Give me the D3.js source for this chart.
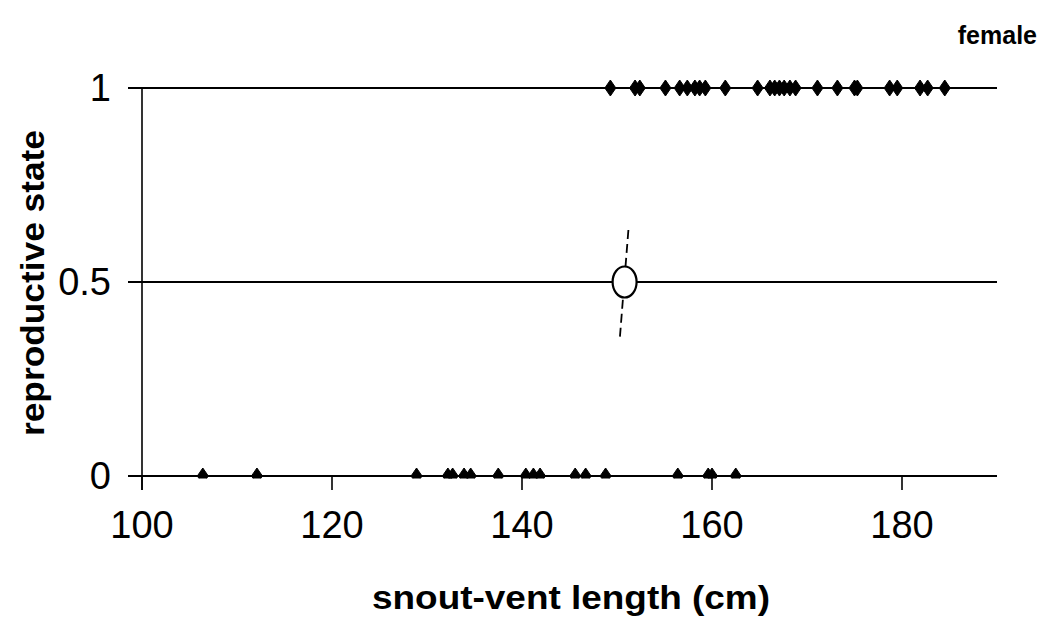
<!DOCTYPE html>
<html>
<head>
<meta charset="utf-8">
<script src="https://cdn.jsdelivr.net/npm/d3@7"></script>
<style>
  html, body { margin: 0; padding: 0; background: #fff; }
  svg { display: block; font-family: "Liberation Sans", Arial, sans-serif; }
</style>
</head>
<body>
<svg id="chart" width="1048" height="631"></svg>
<script>
// Snout-vent lengths (cm) of reproductive (state 1) females
const matureSVL = [149.3, 151.9, 152.4, 155.1, 156.6, 157.4, 158.2, 158.7, 159.3, 161.4,
  164.8, 166.1, 166.6, 167.1, 167.6, 168.2, 168.8, 171.1, 173.2, 175.0, 175.3,
  178.7, 179.5, 181.9, 182.7, 184.5];
// Snout-vent lengths (cm) of non-reproductive (state 0) females
const immatureSVL = [106.4, 112.1, 128.9, 132.2, 132.7, 133.9, 134.6, 137.5, 140.4, 141.2,
  141.9, 145.6, 146.7, 148.8, 156.4, 159.6, 160.0, 162.5];
// Size at 50% maturity and the slope segment drawn through it
const size50 = [150.8];
const slopeSegment = [{ svl: 151.2, p: 0.634 }, { svl: 150.3, p: 0.356 }];
const xTicks = [100, 120, 140, 160, 180];
const yTicks = [0, 0.5, 1];
const yTickLabels = ["0", "0.5", "1"];

const svg = d3.select("#chart");
const x = d3.scaleLinear().domain([100, 190]).range([142, 997]);
const y = d3.scaleLinear().domain([0, 1]).range([476, 88]);

// horizontal reference lines at each state
svg.append("g").selectAll("line").data(yTicks).join("line")
  .attr("x1", 128).attr("x2", x(190))
  .attr("y1", d => y(d)).attr("y2", d => y(d))
  .attr("stroke", "#000").attr("stroke-width", 2);

// y axis line
svg.append("line").attr("x1", x(100)).attr("x2", x(100))
  .attr("y1", y(1)).attr("y2", y(0) + 14)
  .attr("stroke", "#000").attr("stroke-width", 1.6);

// x axis ticks
svg.append("g").selectAll("line").data(xTicks).join("line")
  .attr("x1", d => x(d)).attr("x2", d => x(d))
  .attr("y1", y(0)).attr("y2", y(0) + 14)
  .attr("stroke", "#000").attr("stroke-width", 1.6);

// tick labels
svg.append("g").selectAll("text").data(xTicks).join("text")
  .attr("x", d => x(d)).attr("y", 538)
  .attr("text-anchor", "middle").attr("font-size", 38)
  .text(d => d);
svg.append("g").selectAll("text").data(yTicks).join("text")
  .attr("x", 111).attr("y", d => y(d) + 13)
  .attr("text-anchor", "end").attr("font-size", 38)
  .text((d, i) => yTickLabels[i]);

// markers: diamonds; the ones sitting on state 0 are cut at the baseline
const diamond = "M0,-8 L5.5,0 L0,8 L-5.5,0 Z";
svg.append("defs").append("clipPath").attr("id", "base")
  .append("rect").attr("x", 0).attr("y", 0).attr("width", 1048).attr("height", y(0) + 2.5);

svg.append("g").selectAll("path").data(matureSVL).join("path")
  .attr("d", diamond)
  .attr("transform", d => `translate(${x(d)},${y(1)})`)
  .attr("fill", "#000").attr("stroke", "#000").attr("stroke-width", 1);

svg.append("g").attr("clip-path", "url(#base)")
  .selectAll("path").data(immatureSVL).join("path")
  .attr("d", diamond)
  .attr("transform", d => `translate(${x(d)},${y(0)})`)
  .attr("fill", "#000").attr("stroke", "#000").attr("stroke-width", 1);

// slope segment through the 50% point
svg.append("line")
  .attr("x1", x(slopeSegment[0].svl)).attr("y1", y(slopeSegment[0].p))
  .attr("x2", x(slopeSegment[1].svl)).attr("y2", y(slopeSegment[1].p))
  .attr("stroke", "#000").attr("stroke-width", 1.8)
  .attr("stroke-dasharray", "9,5");

// open marker at size at 50% maturity
svg.append("g").selectAll("ellipse").data(size50).join("ellipse")
  .attr("cx", d => x(d)).attr("cy", y(0.5))
  .attr("rx", 12).attr("ry", 15.5)
  .attr("fill", "#fff").attr("stroke", "#000").attr("stroke-width", 2.2);

// axis titles
svg.append("text").attr("x", 571).attr("y", 609)
  .attr("text-anchor", "middle").attr("font-size", 34).attr("font-weight", "bold")
  .attr("textLength", 398).attr("lengthAdjust", "spacingAndGlyphs")
  .text("snout-vent length (cm)");
svg.append("text").attr("transform", "translate(44,283) rotate(-90)")
  .attr("text-anchor", "middle").attr("font-size", 34).attr("font-weight", "bold")
  .attr("textLength", 306).attr("lengthAdjust", "spacingAndGlyphs")
  .text("reproductive state");
svg.append("text").attr("x", 1037).attr("y", 44)
  .attr("text-anchor", "end").attr("font-size", 25).attr("font-weight", "bold")
  .text("female");
</script>
</body>
</html>
